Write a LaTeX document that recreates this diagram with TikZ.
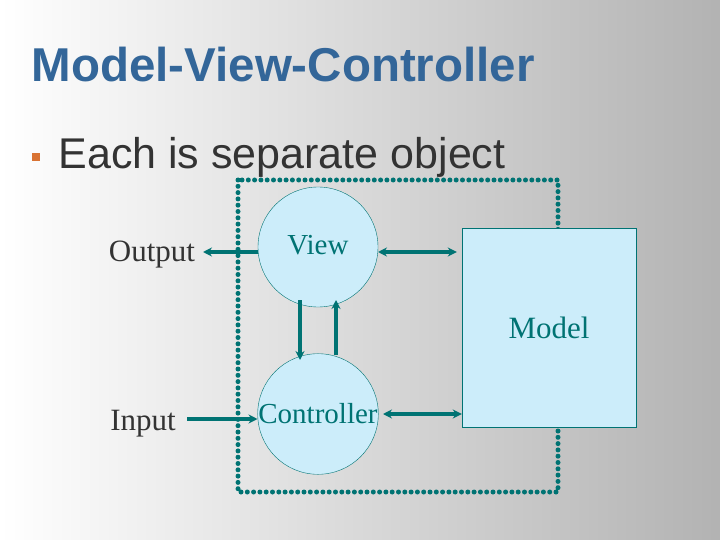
\documentclass[tikz,border=0pt]{standalone}
\usepackage{fontspec}
\setmainfont{Liberation Serif}
\newfontfamily\arialfont{Liberation Sans}
\usetikzlibrary{positioning,arrows.meta}
\definecolor{mvcTeal}{rgb}{0.0,0.45,0.45}
\definecolor{mvcBlue}{rgb}{0.2,0.4,0.6}
\definecolor{mvcFill}{rgb}{0.8,0.93,0.98}
\definecolor{mvcText}{rgb}{0.2,0.2,0.2}
\definecolor{mvcBullet}{rgb}{0.85,0.45,0.2}
\begin{document}
\begin{tikzpicture}[x=1pt,y=-1pt,
    part/.style={circle,draw=mvcTeal,fill=mvcFill,minimum size=120pt,inner sep=0pt,text=mvcTeal,font=\fontsize{29}{31}\selectfont},
    flow/.style={draw=mvcTeal,line width=3.5pt,-{Stealth[length=9pt,width=9pt]}},
    twoway/.style={draw=mvcTeal,line width=3.5pt,{Stealth[length=9pt,width=9pt]}-{Stealth[length=9pt,width=9pt]}}]
    % background
    \shade[shading angle=135,left color=white,right color=black!30] (0,0) rectangle (720,540);
    \useasboundingbox (0,0) rectangle (720,540);

    % title and bullet
    \node[anchor=west,text=mvcBlue,font=\arialfont\bfseries\fontsize{47.5}{50}\selectfont] (title) at (28,65) {Model-View-Controller};
    \fill[mvcBullet] (32,153) rectangle (40,161);
    \node[anchor=west,text=mvcText,font=\arialfont\fontsize{43}{45}\selectfont] (bullet) at (55,157) {Each is separate object};

    % object boundary
    \draw[mvcTeal,line width=5pt,dash pattern=on 0pt off 6.3pt,line cap=round] (238,180) rectangle (558,492);

    % model
    \node[draw=mvcTeal,fill=mvcFill,minimum width=174pt,minimum height=199pt,inner sep=0pt,text=mvcTeal,font=\fontsize{31}{33}\selectfont] (model) at (549,327.5) {Model};

    % view and controller
    \node[part] (view) at (318,247) {\raisebox{4pt}{View}};
    \node[part] (ctrl) at (318,414) {Controller};

    % outside labels
    \node[text=mvcText,font=\fontsize{31}{33}\selectfont] (output) at (152,255) {Output};
    \node[text=mvcText,font=\fontsize{31}{33}\selectfont] (input) at (143,424) {Input};
    \coordinate (outEnd) at (203,252);
    \coordinate (inStart) at (187,419);
    \coordinate (viewTie) at (378,252);
    \coordinate (ctrlTie) at (383,414);

    % connectors
    \draw[flow] (view.west |- outEnd) -- (outEnd);
    \draw[flow] (inStart) -- (ctrl.west |- inStart);
    \draw[twoway] (viewTie) -- ([xshift=-5pt]model.west |- viewTie);
    \draw[twoway] (ctrlTie) -- (model.west |- ctrlTie);
    \draw[flow] (300,300) -- (300,360);
    \draw[flow] (336,355) -- (336,300);
\end{tikzpicture}
\end{document}
